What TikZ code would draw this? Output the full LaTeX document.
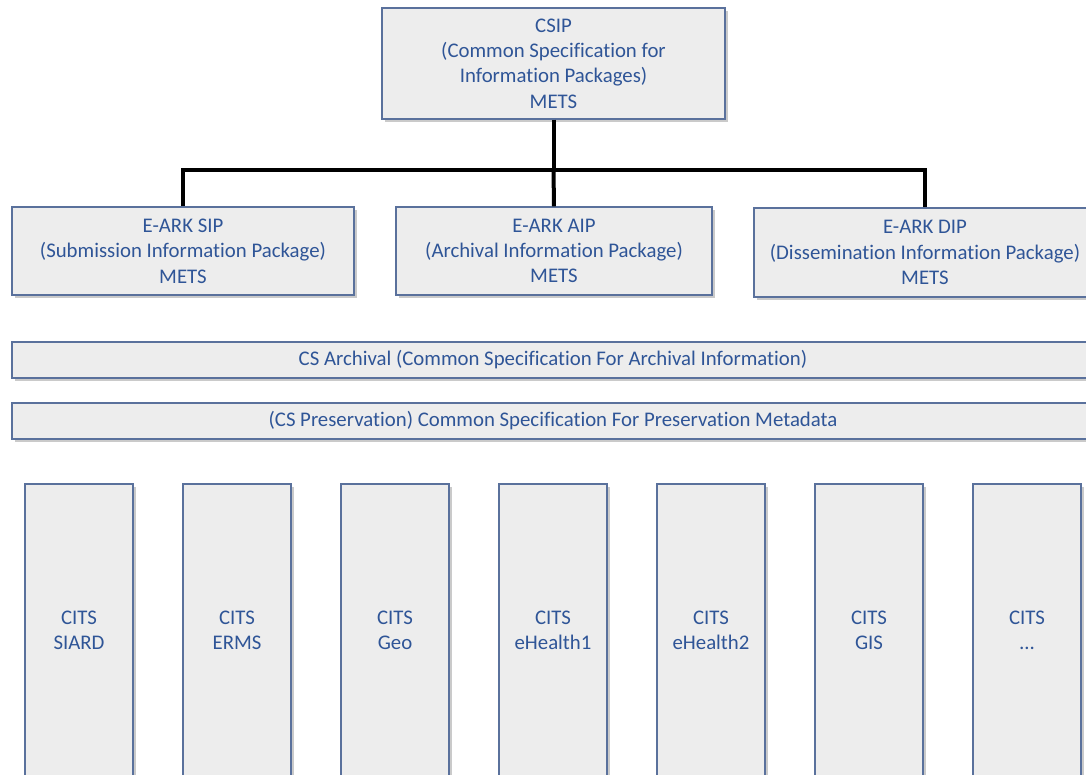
\documentclass[tikz,border=0pt]{standalone}
\usepackage{fontspec}
\setmainfont[Ligatures={NoCommon}]{Carlito}
\usetikzlibrary{shadows}
\definecolor{specblue}{HTML}{2F5597}
\definecolor{specedge}{HTML}{5A719C}
\definecolor{specfill}{HTML}{EDEDED}
\tikzset{
  specbox/.style={draw=specedge, line width=1.1pt, fill=specfill, text=specblue,
    align=center, inner sep=0pt, font=\fontsize{15.6}{19}\selectfont,
    drop shadow={shadow xshift=2.5pt, shadow yshift=-2.5pt, opacity=0.35, fill=black!60}},
  link/.style={line width=3pt, black}
}
\begin{document}
\begin{tikzpicture}[x=0.75pt, y=-0.75pt]
  \useasboundingbox (0,0) rectangle (1086,775);
  % top level
  \node[specbox, minimum width=343*0.75pt, minimum height=111*0.75pt] (csip) at (553.5,63.5)
    {CSIP\\(Common Specification for\\Information Packages)\\METS};
  % packages
  \node[specbox, minimum width=342*0.75pt, minimum height=88*0.75pt] (sip) at (183,251)
    {E-ARK SIP\\(Submission Information Package)\\METS};
  \node[specbox, minimum width=316*0.75pt, minimum height=88*0.75pt] (aip) at (554,251)
    {E-ARK AIP\\(Archival Information Package)\\METS};
  \node[specbox, minimum width=342*0.75pt, minimum height=89*0.75pt] (dip) at (925,252.5)
    {E-ARK DIP\\(Dissemination Information Package)\\METS};
  \coordinate (bus) at (553.5,170);
  \draw[link] (csip.south) -- (bus);
  \draw[link] (sip.north) |- (bus) -| (dip.north);
  \draw[link] (bus) -- (aip.north);
  % common layers
  \node[specbox, minimum width=1082*0.75pt, minimum height=36*0.75pt] (archival) at (553,360)
    {CS Archival (Common Specification For Archival Information)};
  \node[specbox, minimum width=1082*0.75pt, minimum height=36*0.75pt] (preserv) at (553,421)
    {(CS Preservation) Common Specification For Preservation Metadata};
  % content type specifications
  \foreach \i/\lbl in {0/SIARD,1/ERMS,2/Geo,3/eHealth1,4/eHealth2,5/GIS,6/\ldots}
    \node[specbox, minimum width=108*0.75pt, minimum height=292*0.75pt] (cits\i)
      at (79+158*\i,630) {CITS\\\lbl};
\end{tikzpicture}
\end{document}
